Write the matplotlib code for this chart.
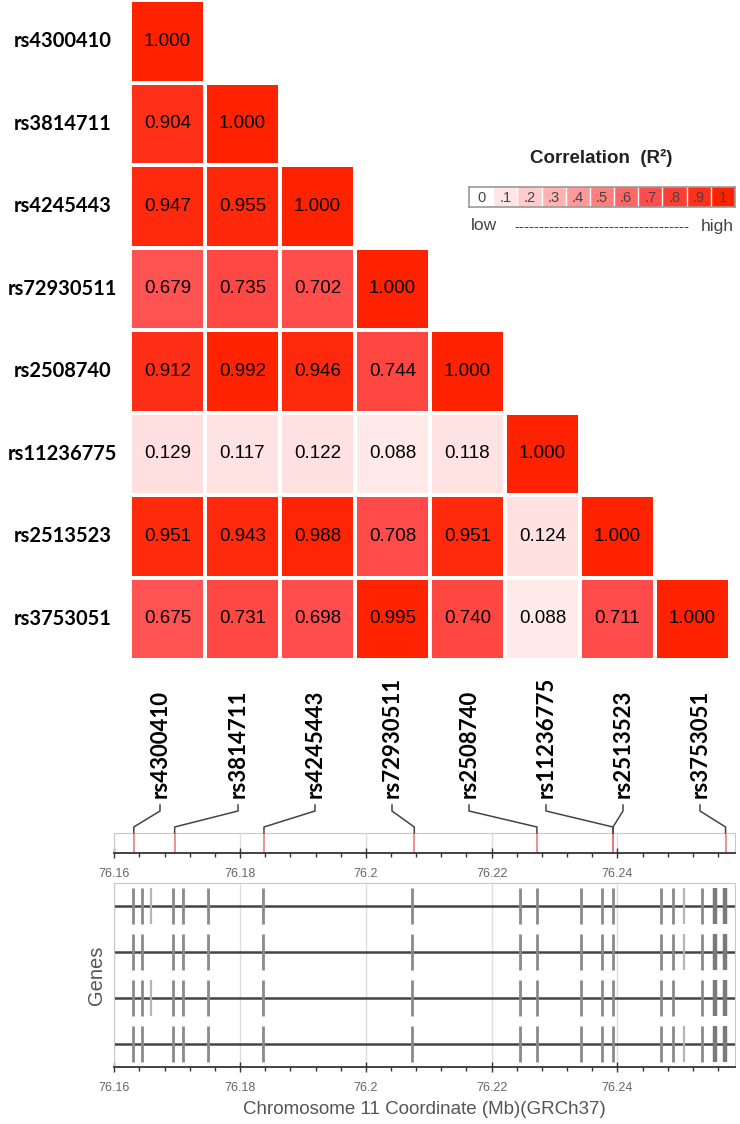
import numpy as np
import matplotlib
matplotlib.use("Agg")
import matplotlib.pyplot as plt
from matplotlib.colors import LinearSegmentedColormap
from matplotlib.ticker import MultipleLocator, FixedLocator
from matplotlib.lines import Line2D

# SNP names (rows / columns of the LD matrix)
snps = ["rs4300410", "rs3814711", "rs4245443", "rs72930511",
        "rs2508740", "rs11236775", "rs2513523", "rs3753051"]

# lower triangle of R^2, one list per row
r2_rows = [
    [1.000],
    [0.904, 1.000],
    [0.947, 0.955, 1.000],
    [0.679, 0.735, 0.702, 1.000],
    [0.912, 0.992, 0.946, 0.744, 1.000],
    [0.129, 0.117, 0.122, 0.088, 0.118, 1.000],
    [0.951, 0.943, 0.988, 0.708, 0.951, 0.124, 1.000],
    [0.675, 0.731, 0.698, 0.995, 0.740, 0.088, 0.711, 1.000],
]

# SNP positions on chr11 (Mb, GRCh37)
snp_pos = [76.1631, 76.1696, 76.1838, 76.2077, 76.2272, 76.2393, 76.2393, 76.2572]

legend_levels = [0, 0.1, 0.2, 0.3, 0.4, 0.5, 0.6, 0.7, 0.8, 0.9, 1.0]
legend_labels = ["0", ".1", ".2", ".3", ".4", ".5", ".6", ".7", ".8", ".9", "1"]

# exons per transcript (Mb); the light ones are drawn fainter
exons_common = [76.1629, 76.1644, 76.1693, 76.1710, 76.1749, 76.1837, 76.2073,
                76.2245, 76.2272, 76.2342, 76.2375, 76.2393, 76.2470, 76.2489,
                76.2534]
exons_thick = [76.2555, 76.2571]
exons_light = [[76.1658, 76.2506], [76.2506], [76.1658], [76.2506]]

xmin, xmax = 76.16, 76.2587

W, H = 740, 1124
fig = plt.figure(figsize=(W / 100, H / 100), dpi=100)


def box(l, t, r, b):
    return [l / W, 1 - b / H, (r - l) / W, (b - t) / H]


cmap = LinearSegmentedColormap.from_list(
    "ld", [(0, "#ffffff"), (0.1, "#ffe6e6"), (0.7, "#ff4d4d"), (1.0, "#ff2200")])

# ---- LD heatmap ----
n = len(snps)
mat = np.full((n, n), np.nan)
for i, row in enumerate(r2_rows):
    mat[i, :len(row)] = row
mat = np.ma.masked_invalid(mat)

ax = fig.add_axes(box(130, 0, 730, 660))
ax.pcolormesh(np.arange(n + 1), np.arange(n + 1), mat, cmap=cmap, vmin=0, vmax=1,
              edgecolors="white", linewidth=2.6)
ax.set_xlim(0, n)
ax.set_ylim(n, 0)
ax.axis("off")
for i, row in enumerate(r2_rows):
    for j, v in enumerate(row):
        ax.text(j + 0.5, i + 0.5, f"{v:.3f}", ha="center", va="center",
                fontsize=13.5, family="Liberation Sans", color="black")

for i, name in enumerate(snps):
    ax.text(-0.9, i + 0.5, name, ha="center", va="center", fontsize=14.5,
            fontweight="bold", family="Lato")

# ---- column labels + connectors ----
lab_x = [160, 238, 315, 392, 469, 546, 623, 700]
for name, lx in zip(snps, lab_x):
    fig.text(lx / W, 1 - 798 / H, name, rotation=90, ha="center", va="bottom",
             fontsize=16, fontweight="bold", family="Lato")

# ---- SNP track ----
axt = fig.add_axes(box(114.3, 833, 735, 853))
axt.set_xlim(xmin, xmax)
axt.set_ylim(0, 1)
axt.set_yticks([])
axt.xaxis.set_major_locator(FixedLocator([76.16, 76.18, 76.2, 76.22, 76.24]))
axt.xaxis.set_minor_locator(MultipleLocator(0.004))
axt.set_xticklabels(["76.16", "76.18", "76.2", "76.22", "76.24"])
for p in snp_pos:
    axt.axvline(p, color="#f07070", lw=1.1)

# connectors from labels down to SNP positions
to_fig = fig.transFigure.inverted()
for lx, p in zip(lab_x, snp_pos):
    xa, ya = to_fig.transform(axt.transData.transform((p, 1)))
    xs = [lx / W, lx / W, xa, xa]
    ys = [1 - 805 / H, 1 - 811 / H, 1 - 827 / H, ya]
    fig.add_artist(Line2D(xs, ys, color="#444444", lw=1.1, transform=fig.transFigure))

# ---- gene track ----
axg = fig.add_axes(box(114.3, 883, 735, 1067))
axg.set_xlim(xmin, xmax)
axg.set_ylim(3.49, -0.49)
axg.set_yticks([])
axg.xaxis.set_major_locator(FixedLocator([76.16, 76.18, 76.2, 76.22, 76.24]))
axg.xaxis.set_minor_locator(MultipleLocator(0.004))
axg.set_xticklabels(["76.16", "76.18", "76.2", "76.22", "76.24"])
for k in range(4):
    axg.axhline(k, color="#444444", lw=1.8, zorder=2)
    axg.vlines(exons_common, k - 0.39, k + 0.39, color="#8a8a8a", lw=2.0, zorder=3)
    axg.vlines(exons_thick, k - 0.39, k + 0.39, color="#7a7a7a", lw=3.2, zorder=3)
    axg.vlines(exons_light[k], k - 0.39, k + 0.39, color="#b5b5b5", lw=1.6, zorder=3)
axg.set_ylabel("Genes", fontsize=14.5, color="#555555", family="Liberation Sans", labelpad=6)
axg.set_xlabel("Chromosome 11 Coordinate (Mb)(GRCh37)", fontsize=13.5, color="#555555",
               family="Liberation Sans", labelpad=5)

for a in (axt, axg):
    for s in ("top", "left", "right"):
        a.spines[s].set_color("#c8c8c8")
    a.spines["bottom"].set_color("#333333")
    a.spines["bottom"].set_linewidth(1.3)
    a.tick_params(axis="x", which="major", direction="inout", length=7, width=1,
                  color="#333333", labelsize=9, labelcolor="#666666", pad=7)
    a.tick_params(axis="x", which="minor", direction="out", length=3, width=1,
                  color="#333333")
    for lab in a.get_xticklabels():
        lab.set_family("Liberation Sans")
    a.grid(axis="x", which="major", color="#dddddd", lw=1, zorder=0)
    a.set_axisbelow(True)

# ---- legend ----
fig.text(601 / W, 1 - 158 / H, "Correlation  (R²)", ha="center", va="center",
         fontsize=13.5, fontweight="bold", family="Liberation Sans", color="#222222")
axl = fig.add_axes(box(469, 187, 735, 207))
axl.imshow([legend_levels], cmap=cmap, vmin=0, vmax=1, aspect="auto",
           extent=(-0.5, len(legend_levels) - 0.5, 0.5, -0.5))
for i in range(len(legend_levels) - 1):
    axl.axvline(i + 0.5, color="white", lw=1)
for i, t in enumerate(legend_labels):
    axl.text(i, 0.05, t, ha="center", va="center", fontsize=10.5,
             family="Liberation Sans", color="#444444")
axl.set_xticks([])
axl.set_yticks([])
for s in axl.spines.values():
    s.set_color("#999999")
    s.set_linewidth(1.2)
fig.text(471 / W, 1 - 226 / H, "low", ha="left", va="center", fontsize=12.5,
         family="Liberation Sans", color="#444444")
fig.text(734 / W, 1 - 226 / H, "high", ha="right", va="center", fontsize=12.5,
         family="Liberation Sans", color="#444444")
fig.text(602 / W, 1 - 227 / H, "-" * 35, ha="center", va="center", fontsize=11,
         family="Liberation Sans", color="#444444")

fig.savefig("out.png", dpi=100, facecolor="white")
